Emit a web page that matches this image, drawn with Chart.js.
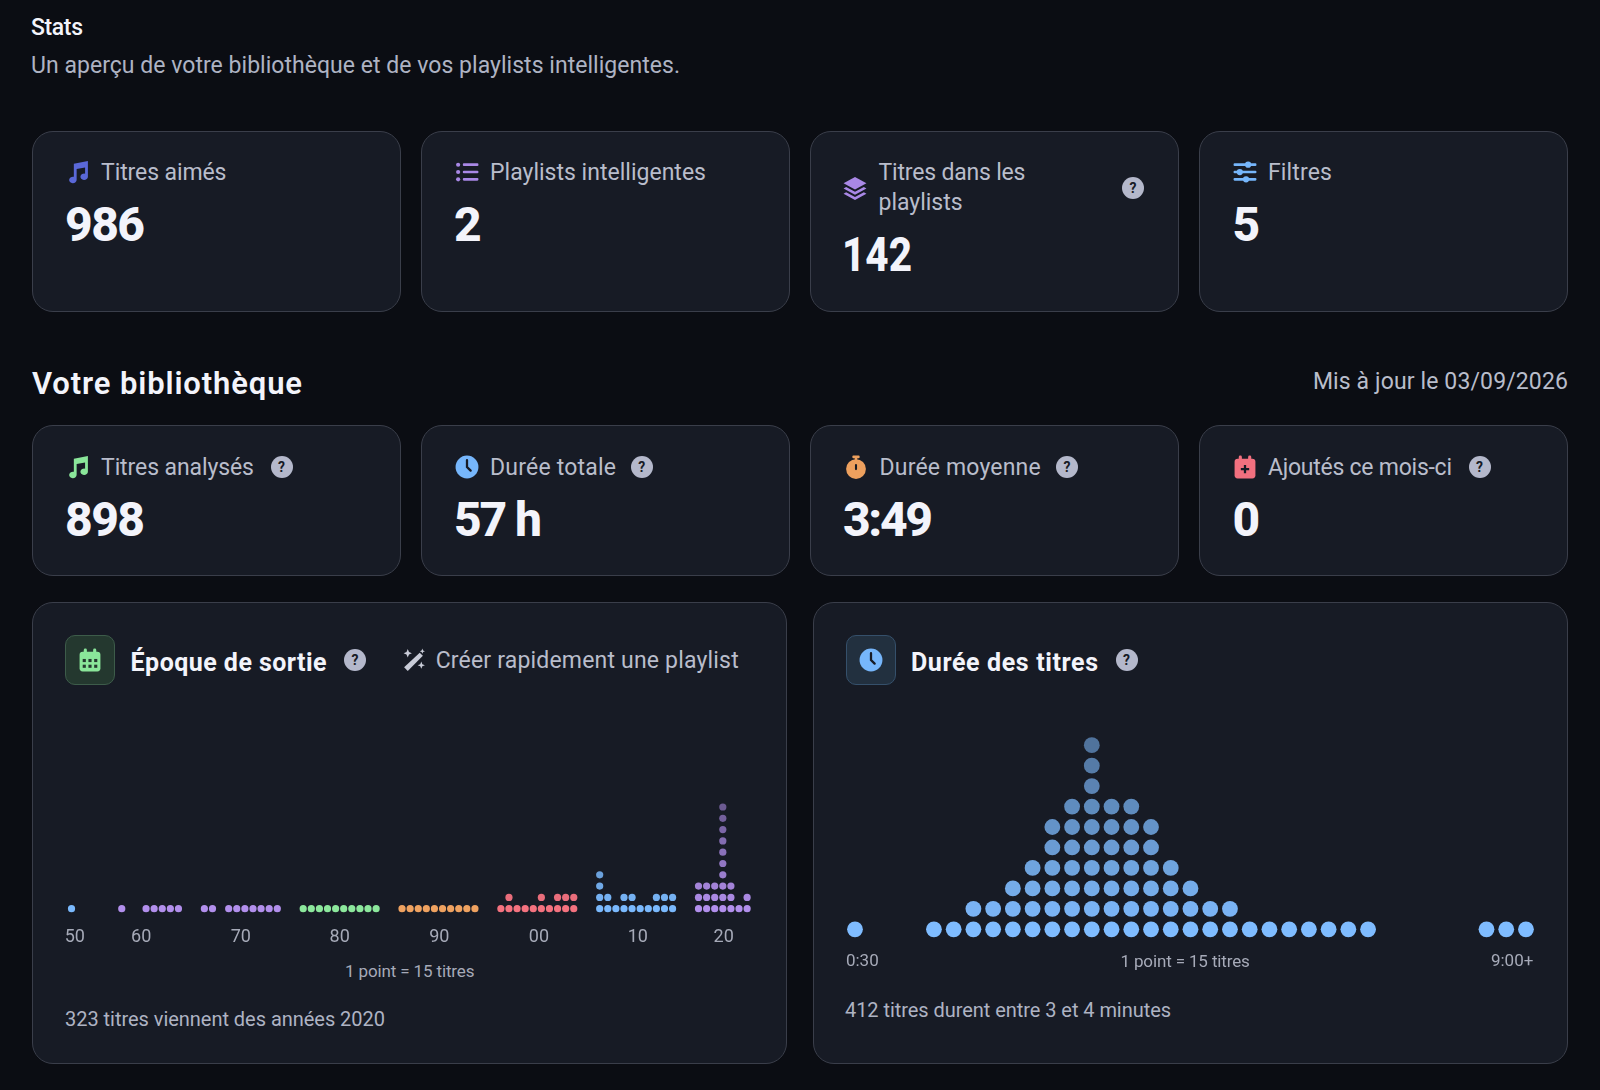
<!DOCTYPE html>
<html lang="fr"><head><meta charset="utf-8"><title>Stats</title>
<script src="https://cdn.jsdelivr.net/npm/chart.js@4/dist/chart.umd.min.js"></script>
<style>
html,body{margin:0;padding:0;background:#0b0d13;width:1600px;height:1090px;overflow:hidden}
body{position:relative;font-family:Roboto,sans-serif}
.card{position:absolute;box-sizing:border-box;background:#171b25;border:1.5px solid #3a3e4a;border-radius:21px}
.t{position:absolute;white-space:nowrap;transform:translateY(-50%);line-height:1.2;z-index:3;transform-origin:left center}
.ic{position:absolute;transform:translate(-50%,-50%);z-index:3}
.box{position:absolute;box-sizing:border-box;width:50px;height:50px;border-radius:10px}
.help{position:absolute;width:22px;height:22px;border-radius:50%;background:#b4b8cb;color:#171b25;font:700 14px/22px Roboto,sans-serif;text-align:center;transform:translate(-50%,-50%);z-index:3}
canvas{position:absolute;z-index:2}
</style></head><body>
<canvas id="epoch" width="754" height="246" style="left:32px;top:700px;width:754px;height:246px"></canvas>
<canvas id="dur" width="755" height="251" style="left:813px;top:720px;width:755px;height:251px"></canvas>
<script>
// Dots per release year (1 point = 15 titres), one array per decade
const years1950 = [0,0,0,0,0,0,0,0,1,0];
const years1960 = [0,0,1,0,0,1,1,1,1,1];
const years1970 = [1,1,0,1,1,1,1,1,1,1];
const years1980 = [1,1,1,1,1,1,1,1,1,1];
const years1990 = [1,1,1,1,1,1,1,1,1,1];
const years2000 = [1,2,1,1,1,2,1,2,2,2];
const years2010 = [4,2,1,2,2,1,1,2,2,2];
const years2020 = [3,3,3,10,3,1,2];
const decadeLabels = ['50','60','70','80','90','00','10','20'];
const decadeColors = ['#7ab9fd','#b28fec','#b28fec','#8ce89c','#efa260','#f4727f','#7ab9fd','#b28fec'];
const decadeTickCols = [8.4,4.4,4.5,4.5,4.6,4.7,4.7,3.1];

// Dots per 15-second duration bin, 0:30 … 9:00+
const durationDots = [1,0,0,0,1,1,2,2,3,4,6,7,10,7,7,6,4,3,2,2,1,1,1,1,1,1,1,0,0,0,0,0,1,1,1];
const durationTickLabels = ['0:30','9:00+'];
const durationTickSlots = [0.37,33.3];

const dOff = 12.2;
const fade = (hex,lvl)=>{const a=Math.max(.45,1-.05*lvl);
  const n=parseInt(hex.slice(1),16);return `rgba(${n>>16},${(n>>8)&255},${n&255},${a})`;};
const stack = (counts,base)=>counts.flatMap((c,i)=>Array.from({length:c},(_,l)=>({x:base+i,y:l})));
const decades=[years1950,years1960,years1970,years1980,years1990,years2000,years2010,years2020];
const common=(tickVals,labels,fs,pad,xmin,xmax,ymin,ymax)=>({
  responsive:false,animation:false,events:[],
  layout:{padding:0,autoPadding:false},
  plugins:{legend:{display:false},tooltip:{enabled:false},title:{display:false}},
  scales:{
    x:{type:'linear',min:xmin,max:xmax,grid:{display:false,drawTicks:false},border:{display:false},
      afterBuildTicks:a=>{a.ticks=tickVals.map(v=>({value:v}));},
      afterFit:s=>{s.height=24;},
      ticks:{autoSkip:false,maxRotation:0,minRotation:0,padding:pad,color:'#a6aab8',
        font:{family:'Roboto',size:fs},callback:(v,i)=>labels[i]}},
    y:{display:false,min:ymin,max:ymax}
  }
});
new Chart(document.getElementById('epoch'),{type:'scatter',
  data:{datasets:decades.map((arr,d)=>({label:decadeLabels[d],data:stack(arr,d*dOff),
    pointRadius:3.6,pointBorderWidth:0,clip:false,
    backgroundColor:c=>c.raw?fade(decadeColors[d],c.raw.y):decadeColors[d]}))},
  options:common(decadeTickCols.map((c,d)=>d*dOff+c),decadeLabels,18,5,3.12,96.2,-1.177,18.47)});
new Chart(document.getElementById('dur'),{type:'scatter',
  data:{datasets:[{label:'Durée',data:stack(durationDots,0),pointRadius:7.9,pointBorderWidth:0,clip:false,
    backgroundColor:c=>c.raw?fade('#7fbcff',c.raw.y):'#7fbcff'}]},
  options:common(durationTickSlots,durationTickLabels,17,5,-2.128,36.13,-0.865,10.23)});

// ---- page furniture ----
const svg={
 music:c=>`<path fill="${c}" d="M8 4 21.500 1.500V16.500a3.600 3.100 0 1 1-2.700-2.900V7.600L10.700 9v10.500a3.600 3.100 0 1 1-2.700-2.900Z"/>`,
 list:c=>`<g fill="${c}"><circle cx="3.5" cy="5" r="2"/><circle cx="3.5" cy="12" r="2"/><circle cx="3.5" cy="19" r="2"/><rect x="8" y="3.7" width="15" height="2.6" rx="1"/><rect x="8" y="10.7" width="15" height="2.6" rx="1"/><rect x="8" y="17.7" width="15" height="2.6" rx="1"/></g>`,
 layers:c=>`<g fill="${c}"><path d="M12 1.5 23 7.5 12 13.5 1 7.5Z"/><path d="M3.5 11 12 15.6 20.5 11 23 12.4 12 18.5 1 12.4Z"/><path d="M3.5 16 12 20.6 20.5 16 23 17.4 12 23.5 1 17.4Z"/></g>`,
 sliders:c=>`<g fill="${c}"><rect x="1" y="3.7" width="22" height="2.6" rx="1"/><rect x="1" y="10.7" width="22" height="2.6" rx="1"/><rect x="1" y="17.7" width="22" height="2.6" rx="1"/><circle cx="15" cy="5" r="3"/><circle cx="7" cy="12" r="3"/><circle cx="13" cy="19" r="3"/></g>`,
 clock:c=>`<circle cx="12" cy="12" r="11" fill="${c}"/><path d="M12 5.500V12l3.500 3.500" stroke="#171b25" stroke-width="2.2" fill="none" stroke-linecap="round"/>`,
 watch:c=>`<g fill="${c}"><circle cx="12" cy="14" r="9.5"/><rect x="8.5" y="1" width="7" height="2.6" rx="1"/><rect x="10.8" y="3" width="2.4" height="3"/></g><rect x="11" y="9" width="2" height="6" rx="1" fill="#171b25"/>`,
 calplus:c=>`<g fill="${c}"><rect x="2" y="4" width="20" height="19" rx="3"/><rect x="6" y="1" width="3" height="6" rx="1.4"/><rect x="15" y="1" width="3" height="6" rx="1.4"/></g><path d="M12 10v8M8 14h8" stroke="#171b25" stroke-width="2.2"/>`,
 cal:c=>`<g fill="${c}"><rect x="2" y="4" width="20" height="19" rx="3"/><rect x="6" y="1" width="3" height="6" rx="1.4"/><rect x="15" y="1" width="3" height="6" rx="1.4"/></g><g fill="#24382f"><rect x="5" y="11" width="3" height="3"/><rect x="10.5" y="11" width="3" height="3"/><rect x="16" y="11" width="3" height="3"/><rect x="5" y="16.5" width="3" height="3"/><rect x="10.5" y="16.5" width="3" height="3"/><rect x="16" y="16.5" width="3" height="3"/></g>`,
 wand:c=>`<g fill="${c}"><path d="M17.5 5 20.5 8 6 22.5 2.5 19Z"/><path d="M6 1.5 7.2 4.3 10 5.5 7.2 6.7 6 9.5 4.8 6.7 2 5.5 4.8 4.3ZM19 13.5l1 2.500 2.500 1-2.500 1-1 2.500-1-2.500-2.500-1 2.500-1ZM20 1l.7 1.800 1.800.7-1.800.7L20 6l-.7-1.800-1.800-.7 1.800-.7Z"/></g>`
};
const add=(cls,html,style)=>{const e=document.createElement('div');e.className=cls;e.innerHTML=html;e.setAttribute('style',style);document.body.appendChild(e);return e;};
const card=(x0,y0,x1,y1)=>add('card','',`left:${x0}px;top:${y0}px;width:${x1-x0}px;height:${y1-y0}px`);
const text=(x,y,s,size,weight,color,w,right)=>{
  const e=add('t',s,`${right?'right:'+(1600-x):'left:'+x}px;top:${y+1}px;font-size:${size}px;font-weight:${weight};color:${color}`);
  if(w){const cur=e.getBoundingClientRect().width;e.style.letterSpacing=((w-cur)/(s.length-1)).toFixed(3)+'px';}
  return e;};
const squeezed=(x,y,s,size,weight,color,w)=>{
  const e=text(x,y,s,size,weight,color);const cur=e.getBoundingClientRect().width;
  e.style.transform=`translateY(-50%) scaleX(${(w/cur).toFixed(3)})`;return e;};
const icon=(x,y,name,c,sz=25)=>add('ic',`<svg width="${sz}" height="${sz}" viewBox="0 0 24 24" style="display:block">${svg[name](c)}</svg>`,`left:${x}px;top:${y}px`);
const help=(x,y)=>add('help','?',`left:${x}px;top:${y}px`);

const LBL='#b9bdcb',VAL='#f3f4fb',L=23;
[[32,401],[421,790],[810,1179],[1199,1568]].forEach(([a,b])=>{card(a,131,b,312);card(a,425,b,576);});
card(32,602,787,1064);card(813,602,1568,1064);

text(31,27,'Stats',23,500,'#f3f4fb',52);
text(31,64.5,'Un aperçu de votre bibliothèque et de vos playlists intelligentes.',L,400,'#aeb3c3',649);

icon(77.6,172,'music','#5a68d8');text(101,172,'Titres aimés',L,400,LBL,125.5);text(65,224,'986',48,800,VAL,80);
icon(467,172,'list','#a988e6');text(490,172,'Playlists intelligentes',L,400,LBL,216);text(454,224,'2',48,800,VAL);
icon(855,187.7,'layers','#a988e6');text(878.5,172,'Titres dans les',L,400,LBL,147);text(878.5,202,'playlists',L,400,LBL,84);help(1133,188);squeezed(842,254,'142',48,800,VAL,70);
icon(1245,172,'sliders','#76b6fb');text(1268,172,'Filtres',L,400,LBL,64);text(1232.5,224,'5',48,800,VAL);

text(32,382.5,'Votre bibliothèque',31,600,VAL,270);
text(1568,380.5,'Mis à jour le 03/09/2026',L,400,LBL,255,true);

icon(77.6,466.5,'music','#8ae69a');text(101,466.5,'Titres analysés',L,400,LBL,153);help(281.6,467);text(65,519.4,'898',48,800,VAL,80);
icon(467,466.5,'clock','#76b6fb');text(490,466.5,'Durée totale',L,400,LBL,126);help(641.8,467);text(454,519.4,'57 h',48,800,VAL,88);
icon(856,466.5,'watch','#eda05e');text(879.6,466.5,'Durée moyenne',L,400,LBL,161);help(1067,467);text(843,519.4,'3:49',48,800,VAL,90);
icon(1245,466.5,'calplus','#f2707f');text(1268,466.5,'Ajoutés ce mois-ci',L,400,LBL,184);help(1479.6,467);text(1232.5,519.4,'0',48,800,VAL);

add('box','','left:65px;top:635px;background:#24382f;border:1.5px solid #3d5c4a');icon(89.7,660,'cal','#8ae69a');
text(130.6,662,'Époque de sortie',25,700,VAL,196);help(355,660);
icon(414,660,'wand','#c9ccd8');text(435.7,660,'Créer rapidement une playlist',L,400,LBL,303);
add('box','','left:846px;top:635px;background:#22303f;border:1.5px solid #35506b');icon(870.6,660,'clock','#76b6fb');
text(911,662,'Durée des titres',25,700,VAL,187);help(1126.5,660);

text(345,969.5,'1 point = 15 titres',17,400,'#a6aab8',129.5);
text(1120.4,960,'1 point = 15 titres',17,400,'#a6aab8',129.5);
text(65,1017.5,'323 titres viennent des années 2020',20,400,'#aeb3c3',320);
text(845,1008.5,'412 titres durent entre 3 et 4 minutes',20,400,'#aeb3c3',326);
</script>
</body></html>
